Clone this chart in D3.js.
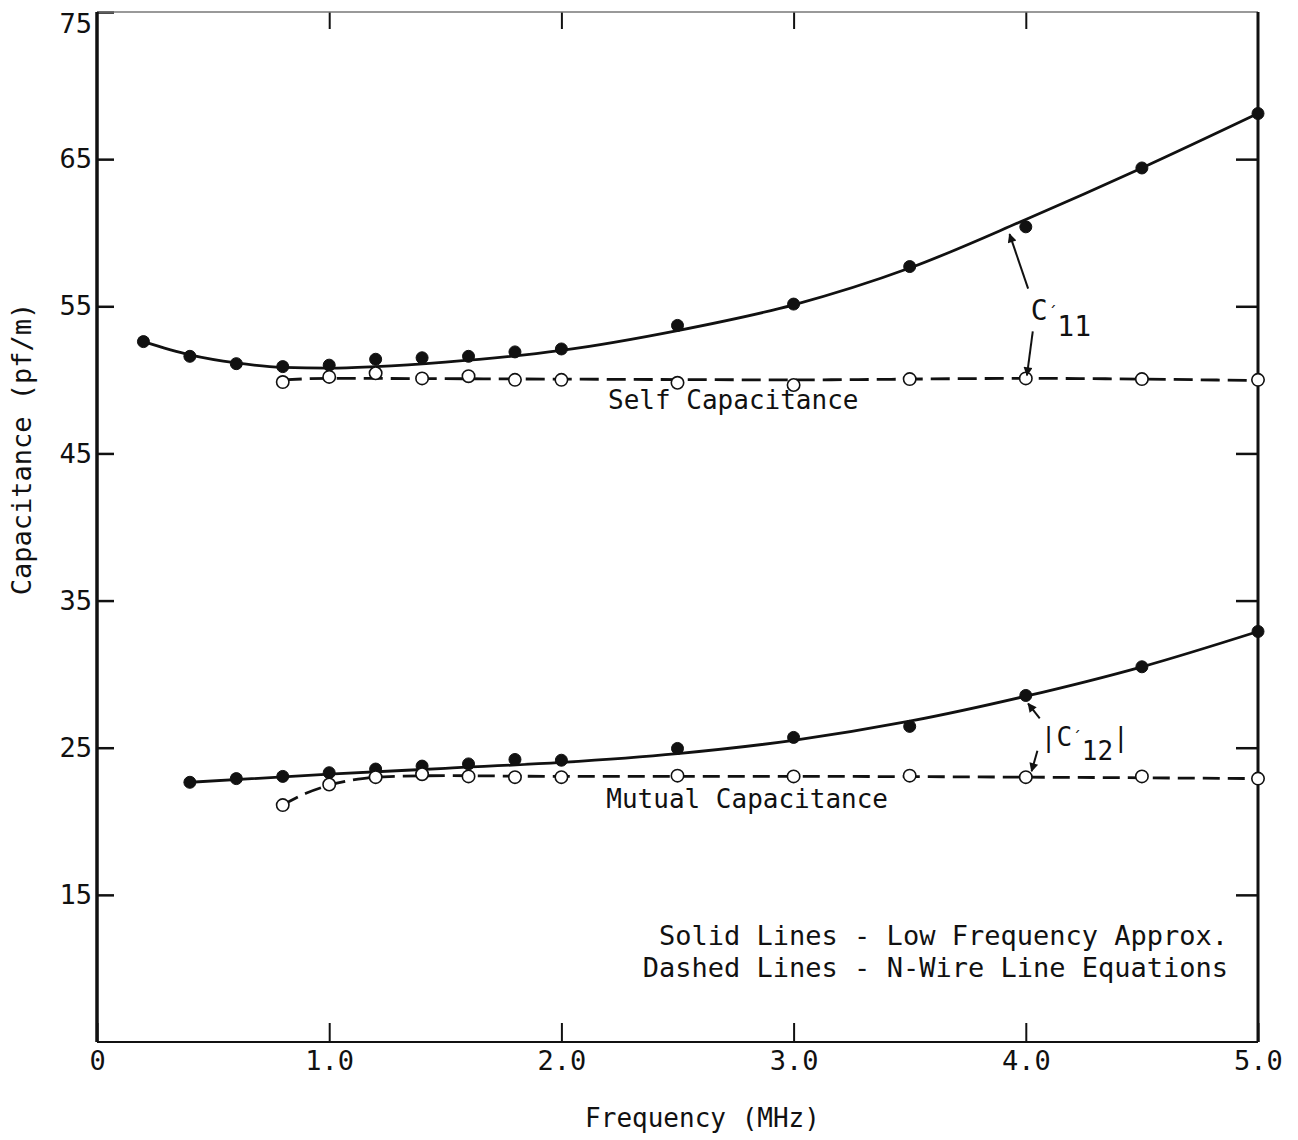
<!DOCTYPE html>
<html>
<head>
<meta charset="utf-8">
<script src="https://cdn.jsdelivr.net/npm/d3@7"></script>
<style>
  body { margin: 0; background: #fff; }
  text { font-family: "DejaVu Sans Mono", monospace; fill: #111; }
</style>
</head>
<body>
<svg id="chart" width="1298" height="1140"></svg>
<script>
// measured points (frequency in MHz, capacitance in pf/m)
const freqC11 = [0.2, 0.4, 0.6, 0.8, 1.0, 1.2, 1.4, 1.6, 1.8, 2.0, 2.5, 3.0, 3.5, 4.0, 4.5, 5.0];
const selfLowFreq = [52.6, 51.6, 51.1, 50.9, 51.0, 51.4, 51.5, 51.6, 51.9, 52.1, 53.7, 55.15, 57.7, 60.4, 64.4, 68.1];

const freqOpen = [0.8, 1.0, 1.2, 1.4, 1.6, 1.8, 2.0, 2.5, 3.0, 3.5, 4.0, 4.5, 5.0];
const selfNWire = [49.85, 50.2, 50.45, 50.1, 50.25, 50.0, 50.0, 49.8, 49.65, 50.05, 50.1, 50.05, 50.0];

const freqC12 = [0.4, 0.6, 0.8, 1.0, 1.2, 1.4, 1.6, 1.8, 2.0, 2.5, 3.0, 3.5, 4.0, 4.5, 5.0];
const mutualLowFreq = [22.65, 22.9, 23.05, 23.3, 23.55, 23.75, 23.9, 24.2, 24.15, 24.95, 25.7, 26.45, 28.55, 30.5, 32.9];
const mutualNWire = [21.1, 22.5, 23.0, 23.2, 23.05, 23.0, 23.0, 23.1, 23.05, 23.1, 23.0, 23.05, 22.9];

// fitted curves drawn through the points
const curveSelfSolid = [[0.2, 52.6], [0.4, 51.7], [0.6, 51.15], [0.8, 50.85], [1.0, 50.8], [1.2, 50.9], [1.5, 51.2], [2.0, 52.0], [2.5, 53.35], [3.0, 55.1], [3.5, 57.6], [4.0, 60.9], [4.5, 64.4], [5.0, 68.1]];
const curveSelfDash = [[0.8, 50.0], [1.0, 50.1], [2.0, 50.05], [3.0, 50.0], [4.0, 50.1], [5.0, 49.95]];
const curveMutualSolid = [[0.4, 22.65], [1.0, 23.2], [1.5, 23.6], [2.0, 24.0], [2.5, 24.6], [3.0, 25.5], [3.5, 26.8], [4.0, 28.5], [4.5, 30.5], [5.0, 32.9]];
const curveMutualDash = [[0.8, 21.1], [0.9, 21.9], [1.0, 22.45], [1.1, 22.8], [1.2, 23.0], [1.5, 23.1], [2.0, 23.05], [3.0, 23.05], [4.0, 23.0], [5.0, 22.9]];

const yTicks = [15, 25, 35, 45, 55, 65, 75];
const xTicks = [0, 1, 2, 3, 4, 5];
const xTickLabels = ["0", "1.0", "2.0", "3.0", "4.0", "5.0"];

const svg = d3.select('#chart');
const plotLeft = 97, plotRight = 1258, plotTop = 12, plotBottom = 1042;

const x = d3.scaleLinear().domain([0, 5]).range([plotLeft, plotRight]);
const y = d3.scaleLinear().domain([5, 75]).range([plotBottom, plotTop]);

// axes, ticks pointing inward
svg.append('g')
  .attr('transform', `translate(${plotLeft},0)`)
  .call(d3.axisLeft(y).tickValues(yTicks).tickSize(-17).tickSizeOuter(0).tickPadding(5).tickFormat(d3.format('d')))
  .call(g => g.select('.domain').remove())
  .call(g => g.selectAll('line').attr('stroke', '#111').attr('stroke-width', 2.5))
  .call(g => g.selectAll('text').style('font-size', '27px'))
  .call(g => g.selectAll('.tick').filter(d => d === 75).select('text').attr('dy', '0.75em'));

svg.append('g')
  .attr('transform', `translate(${plotRight},0)`)
  .call(d3.axisRight(y).tickValues(yTicks.slice(0, -1)).tickSize(-22).tickSizeOuter(0).tickFormat(''))
  .call(g => g.select('.domain').remove())
  .call(g => g.selectAll('line').attr('stroke', '#111').attr('stroke-width', 2.5));

svg.append('g')
  .attr('transform', `translate(0,${plotBottom})`)
  .call(d3.axisBottom(x).tickValues(xTicks).tickSize(-19).tickSizeOuter(0).tickPadding(9).tickFormat((d, i) => xTickLabels[i]))
  .call(g => g.select('.domain').remove())
  .call(g => g.selectAll('line').attr('stroke', '#111').attr('stroke-width', 2))
  .call(g => g.selectAll('text').style('font-size', '27px'));

svg.append('g')
  .attr('transform', `translate(0,${plotTop})`)
  .call(d3.axisTop(x).tickValues([1, 2, 3, 4]).tickSize(-17).tickSizeOuter(0).tickFormat(''))
  .call(g => g.select('.domain').remove())
  .call(g => g.selectAll('line').attr('stroke', '#111').attr('stroke-width', 2));

// frame
svg.append('line').attr('x1', plotLeft).attr('x2', plotRight).attr('y1', plotTop).attr('y2', plotTop)
  .attr('stroke', '#777').attr('stroke-width', 1.5);
svg.append('line').attr('x1', plotLeft).attr('x2', plotRight).attr('y1', plotBottom).attr('y2', plotBottom)
  .attr('stroke', '#111').attr('stroke-width', 2);
svg.append('line').attr('x1', plotLeft).attr('x2', plotLeft).attr('y1', plotTop).attr('y2', plotBottom)
  .attr('stroke', '#111').attr('stroke-width', 3.5);
svg.append('line').attr('x1', plotRight).attr('x2', plotRight).attr('y1', plotTop).attr('y2', plotBottom)
  .attr('stroke', '#111').attr('stroke-width', 3);

// curves
const line = d3.line().x(d => x(d[0])).y(d => y(d[1])).curve(d3.curveMonotoneX);

svg.append('path').datum(curveSelfSolid).attr('d', line)
  .attr('fill', 'none').attr('stroke', '#111').attr('stroke-width', 2.8);
svg.append('path').datum(curveMutualSolid).attr('d', line)
  .attr('fill', 'none').attr('stroke', '#111').attr('stroke-width', 2.8);
svg.append('path').datum(curveSelfDash).attr('d', line)
  .attr('fill', 'none').attr('stroke', '#111').attr('stroke-width', 2.8).attr('stroke-dasharray', '19,8');
svg.append('path').datum(curveMutualDash).attr('d', line)
  .attr('fill', 'none').attr('stroke', '#111').attr('stroke-width', 2.8).attr('stroke-dasharray', '17,8');

// markers
function dots(xs, ys, open) {
  svg.append('g').selectAll('circle')
    .data(xs.map((f, i) => [f, ys[i]]))
    .join('circle')
    .attr('cx', d => x(d[0]))
    .attr('cy', d => y(d[1]))
    .attr('r', open ? 6.2 : 6)
    .attr('fill', open ? '#fff' : '#111')
    .attr('stroke', '#111')
    .attr('stroke-width', open ? 1.6 : 1);
}
dots(freqC11, selfLowFreq, false);
dots(freqC12, mutualLowFreq, false);
dots(freqOpen, selfNWire, true);
dots(freqOpen, mutualNWire, true);

// annotations
svg.append('text').attr('x', x(2.74)).attr('y', y(48.0)).attr('text-anchor', 'middle')
  .style('font-size', '26px').text('Self Capacitance');
svg.append('text').attr('x', x(2.8)).attr('y', y(20.9)).attr('text-anchor', 'middle')
  .style('font-size', '26px').text('Mutual Capacitance');

svg.append('text').attr('x', plotRight - 30).attr('y', y(11.6)).attr('text-anchor', 'end')
  .style('font-size', '27px').text('Solid Lines - Low Frequency Approx.');
svg.append('text').attr('x', plotRight - 30).attr('y', y(9.4)).attr('text-anchor', 'end')
  .style('font-size', '27px').text('Dashed Lines - N-Wire Line Equations');

// axis titles
svg.append('text').attr('x', (plotLeft + plotRight) / 2 + 25).attr('y', 1127).attr('text-anchor', 'middle')
  .style('font-size', '26px').text('Frequency (MHz)');
svg.append('text').attr('transform', 'translate(31,449) rotate(-90)').attr('text-anchor', 'middle')
  .style('font-size', '27px').text('Capacitance (pf/m)');

// arrows
const defs = svg.append('defs');
defs.append('marker').attr('id', 'head').attr('viewBox', '0 0 10 10')
  .attr('refX', 9).attr('refY', 5).attr('markerWidth', 14).attr('markerHeight', 9)
  .attr('orient', 'auto').attr('markerUnits', 'userSpaceOnUse')
  .append('path').attr('d', 'M0,0 L10,5 L0,10 z').attr('fill', '#111');

function arrow(x1, y1, x2, y2) {
  svg.append('line').attr('x1', x(x1)).attr('y1', y(y1)).attr('x2', x(x2)).attr('y2', y(y2))
    .attr('stroke', '#111').attr('stroke-width', 2).attr('marker-end', 'url(#head)');
}
arrow(4.01, 56.2, 3.93, 59.9);
arrow(4.03, 53.3, 4.005, 50.3);
arrow(4.06, 27.0, 4.01, 28.0);
arrow(4.05, 24.8, 4.025, 23.4);

// C'11 label: pieces laid side by side so they do not overlap
const c11 = svg.append('text').attr('x', x(4.0) + 5).attr('y', y(54.1)).style('font-size', '28px');
c11.append('tspan').text('C');
c11.append('tspan').attr('dy', -2).style('font-size', '16px').text('´');
c11.append('tspan').attr('dy', 18).text('11');

// |C'12| label
const c12 = svg.append('text').attr('x', x(4.0) + 15).attr('y', y(25.1)).style('font-size', '26px');
c12.append('tspan').text('|C');
c12.append('tspan').attr('dy', -3).style('font-size', '16px').text('´');
c12.append('tspan').attr('dy', 17).text('12');
c12.append('tspan').attr('dy', -14).text('|');
</script>
</body>
</html>
